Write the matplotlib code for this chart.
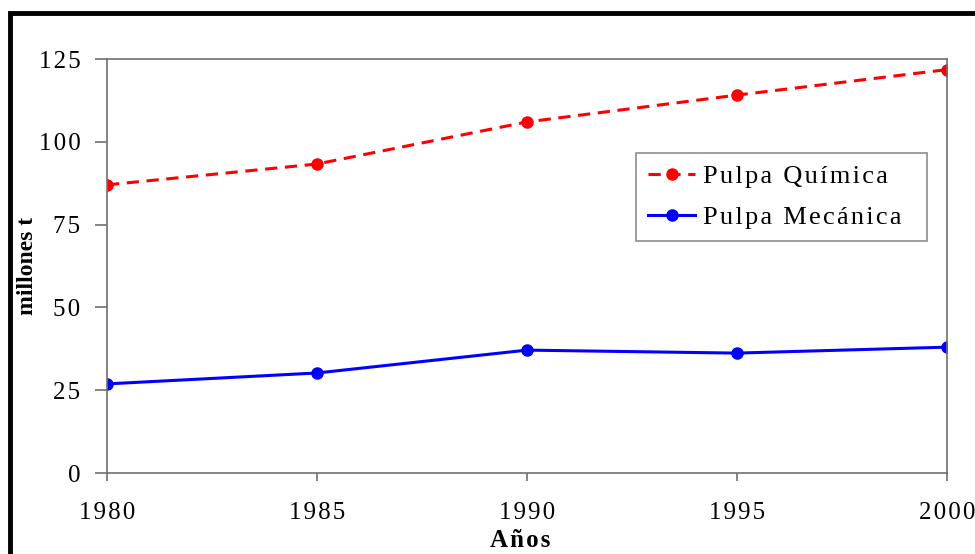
import matplotlib
matplotlib.use("Agg")
import matplotlib.pyplot as plt
from matplotlib.patches import Rectangle

years = [1980, 1985, 1990, 1995, 2000]
quimica = [87, 93.3, 106, 114.1, 121.8]
mecanica = [26.9, 30.2, 37.1, 36.2, 38.0]
yticks = [0, 25, 50, 75, 100, 125]
label_q = "Pulpa Química"
label_m = "Pulpa Mecánica"

SP = "\u200a"
def spaced(s):
    return SP.join(list(s))

plt.rcParams['font.family'] = ['Liberation Serif', 'DejaVu Serif']

fig = plt.figure(figsize=(9.75, 5.54), dpi=100)
ax = fig.add_axes([107/975, 1-473/554, (947-107)/975, (473-59)/554])

ax.plot(years, quimica, color='#ff0000', linestyle=(0, (4, 2.5)), linewidth=2.2,
        marker='o', markersize=8, label=spaced(label_q) + "  ")
ax.plot(years, mecanica, color='#0000ff', linestyle='-', linewidth=2.2,
        marker='o', markersize=8, label=spaced(label_m) + "  ")

ax.set_xlim(1980, 2000)
ax.set_ylim(0, 125)
ax.set_xticks(years)
ax.set_xticklabels([spaced(str(y)) for y in years])
ax.set_yticks(yticks)
ax.set_yticklabels([spaced(str(v)) for v in yticks])

for s in ax.spines.values():
    s.set_color('#707070')
    s.set_linewidth(1.2)
ax.tick_params(axis='y', direction='out', length=9, width=1.2, color='#707070',
               labelsize=18, pad=10)
ax.tick_params(axis='x', direction='out', length=6, width=1.2, color='#707070',
               labelsize=18, pad=15)
for lab in ax.get_xticklabels() + ax.get_yticklabels():
    lab.set_clip_on(False)

ax.set_ylabel("millones t", fontsize=17, fontweight='bold')
ax.yaxis.set_label_coords((38-107)/840, 0.5)
ax.set_xlabel("\u200a".join(list("Años")), fontsize=18, fontweight='bold')
ax.xaxis.set_label_coords((520-107)/840, (473-529)/414)

leg = ax.legend(loc='upper left', bbox_to_anchor=((636-107)/840, (473-153)/414),
                fontsize=19, frameon=True, fancybox=False, edgecolor='#707070',
                handlelength=1.8, handletextpad=0.3, borderpad=0.45,
                labelspacing=0.65, borderaxespad=0)
leg.get_frame().set_linewidth(1.2)

fig.patches.append(Rectangle((10/975, -0.1), 1.2, 1 - 13/554 + 0.1,
                             transform=fig.transFigure, fill=False,
                             edgecolor='black', linewidth=3.5))

fig.savefig("out.png", dpi=100)
